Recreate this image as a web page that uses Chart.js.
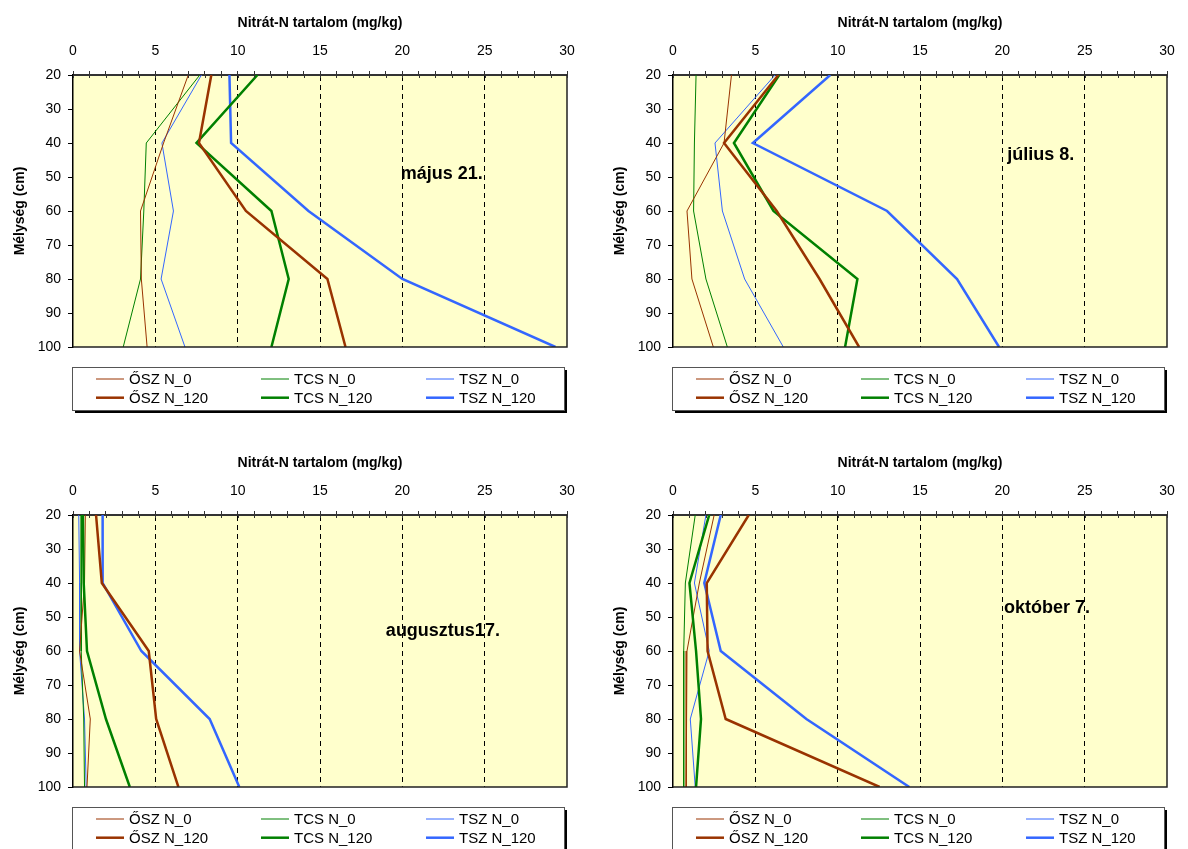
<!DOCTYPE html>
<html>
<head>
<meta charset="utf-8">
<script src="https://cdn.jsdelivr.net/npm/chart.js@4/dist/chart.umd.min.js"></script>
<style>
  body { margin: 0; background: #fff; width: 1188px; height: 849px; overflow: hidden; position: relative; }
  canvas { position: absolute; }
</style>
</head>
<body>
<canvas id="c1" width="600" height="440" style="left:0;top:0"></canvas>
<canvas id="c2" width="600" height="440" style="left:600px;top:0"></canvas>
<canvas id="c3" width="600" height="440" style="left:0;top:440px"></canvas>
<canvas id="c4" width="600" height="440" style="left:600px;top:440px"></canvas>
<script>
// mélység (cm) - y tengely
const depths = [20, 40, 60, 80, 100];
const depthTicks = [20, 30, 40, 50, 60, 70, 80, 90, 100];
const xTicks = [0, 5, 10, 15, 20, 25, 30];

const seriesNames = ['ŐSZ N_0', 'TCS N_0', 'TSZ N_0', 'ŐSZ N_120', 'TCS N_120', 'TSZ N_120'];
const seriesColors = ['#993300', '#008000', '#3366FF', '#993300', '#008000', '#3366FF'];
const seriesWidths = [1, 1, 1, 2.5, 2.5, 2.5];

const dates = ['május 21.', 'július 8.', 'augusztus17.', 'október 7.'];

// nitrát-N értékek (mg/kg), sorrend mint seriesNames, mélység szerint
const majus21 = [
  [7.0, 5.5, 4.1, 4.15, 4.5],
  [7.7, 4.45, 4.3, 4.1, 3.05],
  [7.8, 5.4, 6.1, 5.35, 6.8],
  [8.4, 7.65, 10.5, 15.45, 16.55],
  [11.2, 7.5, 12.05, 13.1, 12.05],
  [9.5, 9.6, 14.3, 20.0, 29.3]
];
const julius8 = [
  [3.55, 3.1, 0.85, 1.15, 2.45],
  [1.4, 1.3, 1.25, 2.0, 3.3],
  [6.2, 2.55, 3.0, 4.35, 6.7],
  [6.4, 3.1, 6.3, 8.9, 11.3],
  [6.45, 3.7, 6.1, 11.2, 10.45],
  [9.55, 4.85, 13.0, 17.25, 19.8]
];
const augusztus17 = [
  [0.75, 0.7, 0.4, 1.05, 0.85],
  [0.5, 0.5, 0.5, 0.65, 0.7],
  [0.35, 0.4, 0.4, 0.7, 0.8],
  [1.4, 1.75, 4.6, 5.05, 6.4],
  [0.6, 0.65, 0.85, 2.0, 3.45],
  [1.8, 1.8, 4.15, 8.3, 10.1]
];
const oktober7 = [
  [2.5, 1.6, 0.85, 0.8, 0.8],
  [1.35, 0.75, 0.65, 0.65, 0.65],
  [2.0, 1.3, 2.2, 1.05, 1.35],
  [4.6, 2.05, 2.1, 3.2, 12.55],
  [2.2, 1.0, 1.4, 1.7, 1.4],
  [2.9, 1.9, 2.9, 8.1, 14.35]
];

// a dátum felirat helye (x érték, mélység)
const labelAnchors = [[19.9, 49], [20.3, 43.5], [19.0, 54.2], [20.1, 47.3]];

const FONT = "'Liberation Sans', Arial, sans-serif";

const panelPlugin = {
  id: 'panel',
  beforeDraw(chart) {
    const ctx = chart.ctx;
    const a = chart.chartArea;
    ctx.save();
    ctx.fillStyle = '#fff';
    ctx.fillRect(0, 0, chart.width, chart.height);
    ctx.fillStyle = '#FFFFCC';
    ctx.fillRect(a.left, a.top, a.right - a.left, a.bottom - a.top);
    ctx.restore();
  },
  afterDraw(chart, args, opts) {
    const ctx = chart.ctx;
    const a = chart.chartArea;
    const xs = chart.scales.x, ys = chart.scales.y;
    ctx.save();
    // keret jobb és alsó oldal
    ctx.strokeStyle = '#222';
    ctx.lineWidth = 1.5;
    ctx.beginPath();
    ctx.moveTo(a.right, a.top);
    ctx.lineTo(a.right, a.bottom);
    ctx.lineTo(a.left, a.bottom);
    ctx.stroke();

    // osztásjelek befelé is
    ctx.strokeStyle = '#333';
    ctx.lineWidth = 1;
    xs.ticks.forEach(t => {
      const px = Math.round(xs.getPixelForValue(t.value)) + 0.5;
      ctx.beginPath();
      ctx.moveTo(px, a.top);
      ctx.lineTo(px, a.top + 3);
      ctx.stroke();
    });

    // dátum
    ctx.fillStyle = '#000';
    ctx.font = 'bold 18px ' + FONT;
    ctx.textBaseline = 'middle';
    ctx.textAlign = 'left';
    ctx.fillText(opts.date, xs.getPixelForValue(opts.anchor[0]), ys.getPixelForValue(opts.anchor[1]));

    // jelmagyarázat
    const bx = a.left - 1, by = a.bottom + 20, bw = a.right - a.left - 2, bh = 43;
    ctx.fillStyle = '#000';
    ctx.fillRect(bx + 3, by + 3, bw, bh);
    ctx.fillStyle = '#fff';
    ctx.fillRect(bx, by, bw, bh);
    ctx.strokeStyle = '#555';
    ctx.lineWidth = 1;
    ctx.strokeRect(bx + 0.5, by + 0.5, bw, bh);
    ctx.font = '15px ' + FONT;
    chart.data.datasets.forEach((ds, i) => {
      const col = i % 3, row = Math.floor(i / 3);
      const lx = bx + 24 + col * 165;
      const ly = by + 12 + row * 18.7;
      ctx.strokeStyle = ds.borderColor;
      ctx.lineWidth = ds.borderWidth;
      ctx.beginPath();
      ctx.moveTo(lx, ly);
      ctx.lineTo(lx + 28, ly);
      ctx.stroke();
      ctx.fillStyle = '#000';
      ctx.fillText(ds.label, lx + 33, ly + 1);
    });
    ctx.restore();
  }
};

function createChart(canvasId, values, idx) {
  const datasets = [];
  for (let i = 0; i < seriesNames.length; i++) {
    datasets.push({
      label: seriesNames[i],
      data: depths.map((d, j) => ({ x: values[i][j], y: d })),
      borderColor: seriesColors[i],
      borderWidth: seriesWidths[i],
      showLine: true,
      pointRadius: 0,
      tension: 0,
      fill: false
    });
  }
  // a vastag vonalak kerüljenek felülre
  datasets.forEach((ds, i) => { ds.order = i < 3 ? 2 : 1; });

  new Chart(document.getElementById(canvasId), {
    type: 'scatter',
    data: { datasets: datasets },
    plugins: [panelPlugin],
    options: {
      responsive: false,
      animation: false,
      layout: { padding: { left: 0, right: 33, top: 0, bottom: 93 } },
      plugins: {
        legend: { display: false },
        tooltip: { enabled: false },
        panel: { date: dates[idx], anchor: labelAnchors[idx] }
      },
      scales: {
        x: {
          type: 'linear',
          position: 'top',
          min: xTicks[0],
          max: xTicks[xTicks.length - 1],
          afterFit: s => { s.height = 75; },
          ticks: {
            stepSize: 1,
            autoSkip: false,
            maxRotation: 0,
            padding: 11,
            color: '#000',
            font: { family: FONT, size: 14 },
            callback: v => xTicks.includes(v) ? v : ''
          },
          grid: {
            color: c => (c.tick && c.tick.value % 5 === 0 && c.tick.value > 0 && c.tick.value < 30) ? '#000' : 'rgba(0,0,0,0)',
            lineWidth: 1,
            tickColor: '#333',
            tickLength: 4
          },
          border: { display: true, color: '#333', width: 2, dash: [5, 4] },
          title: {
            display: true,
            text: 'Nitrát-N tartalom (mg/kg)',
            color: '#000',
            font: { family: FONT, size: 14, weight: 'bold' },
            padding: { top: 15, bottom: 0 }
          }
        },
        y: {
          type: 'linear',
          reverse: true,
          min: depthTicks[0],
          max: depthTicks[depthTicks.length - 1],
          afterFit: s => { s.width = 73; },
          ticks: {
            stepSize: 10,
            padding: 7,
            color: '#000',
            font: { family: FONT, size: 14 }
          },
          grid: { drawOnChartArea: false, tickColor: '#000', tickLength: 5 },
          border: { display: true, color: '#000', width: 1.5 },
          title: {
            display: true,
            text: 'Mélység (cm)',
            color: '#000',
            font: { family: FONT, size: 14, weight: 'bold' },
            padding: { top: 12, bottom: 0 }
          }
        }
      }
    }
  });
}

createChart('c1', majus21, 0);
createChart('c2', julius8, 1);
createChart('c3', augusztus17, 2);
createChart('c4', oktober7, 3);
</script>
</body>
</html>
